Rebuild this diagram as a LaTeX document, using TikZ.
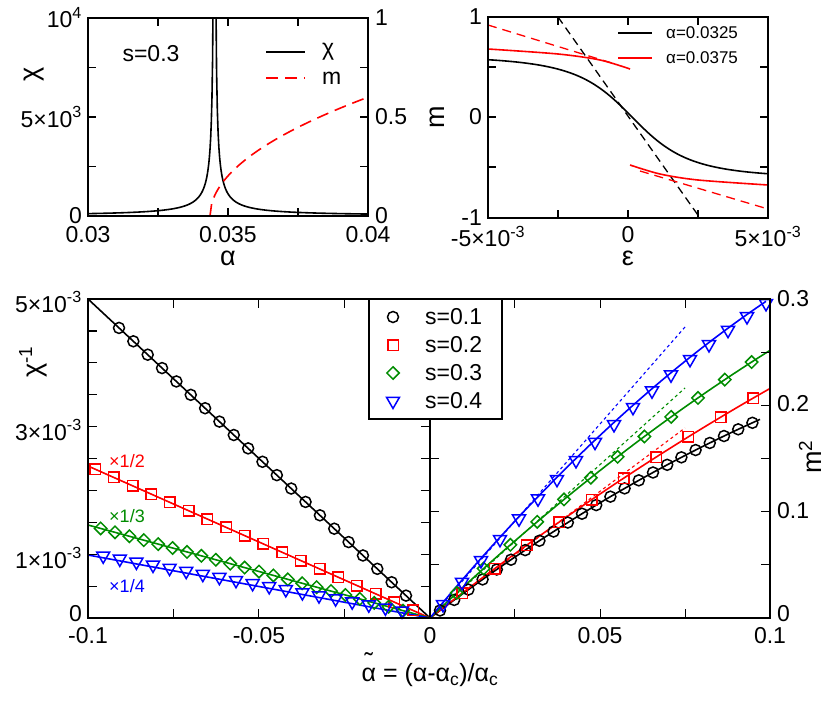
\documentclass[tikz,border=0pt]{standalone}
\usepackage{fontspec}
\setmainfont{Liberation Sans}
\usetikzlibrary{shapes.geometric}
\definecolor{dgreen}{RGB}{0,140,0}
\tikzset{
  frame/.style={line width=1.6pt},
  tk/.style={line width=1.2pt},
  lbl/.style={font=\fontsize{23}{26}\selectfont, inner sep=0pt},
  ttl/.style={font=\fontsize{27}{30}\selectfont, inner sep=0pt},
  curve/.style={line width=1.6pt},
  mcirc/.style={circle, draw=black, line width=1.5pt, minimum size=11pt, inner sep=0pt},
  msq/.style={rectangle, draw=red, line width=1.5pt, minimum size=10.5pt, inner sep=0pt},
  mdia/.style={diamond, draw=dgreen, line width=1.5pt, minimum size=13pt, inner sep=0pt},
  mtri/.style={regular polygon, regular polygon sides=3, shape border rotate=180, draw=blue, line width=1.5pt, minimum size=15pt, inner sep=0pt}
}
\begin{document}
\begin{tikzpicture}[x=1pt,y=-1pt]
\useasboundingbox (0,0) rectangle (830,701);
%%%%%%%% top-left panel
\begin{scope}
\clip (88,18) rectangle (368,216);
\draw[curve] plot[domain=88:213.2, samples=200] (\x,{216-300/(214.5-\x)});
\draw[curve] plot[domain=215.8:368, samples=200] (\x,{216-300/(\x-214.5)});
\draw[curve, red, dashed, dash pattern=on 12pt off 7pt] plot[domain=210:368, samples=100] (\x,{216-118.8*sqrt((\x-210)/158)});
\end{scope}
\foreach \x in {158,228,298} {\draw[tk] (\x,216) -- (\x,208); \draw[tk] (\x,18) -- (\x,26);}
\foreach \y in {67.5,117,166.5} {\draw[tk] (88,\y) -- (96,\y); \draw[tk] (368,\y) -- (360,\y);}
\draw[frame] (88,18) rectangle (368,216);
\node[lbl, anchor=north] (tl1) at (88,226) {0.03};
\node[lbl, anchor=north] (tl2) at (228,226) {0.035};
\node[lbl, anchor=north] (tl3) at (368,226) {0.04};
\node[ttl, anchor=north] (tlx) at (228,251) {α};
\node[lbl, anchor=east] (tly1) at (82,18) {10\textsuperscript{4}};
\node[lbl, anchor=east] (tly2) at (82,117) {5×10\textsuperscript{3}};
\node[lbl, anchor=east] (tly3) at (82,216) {0};
\node[ttl, rotate=90] (tly) at (34,74) {χ};
\node[lbl, anchor=west] (tr1) at (375,18) {1};
\node[lbl, anchor=west] (tr2) at (375,117) {0.5};
\node[lbl, anchor=west] (tr3) at (375,216) {0};
\node[lbl] (s03) at (151,54) {s=0.3};
\coordinate (la1) at (266,52); \coordinate (la2) at (305,52);
\draw[curve] (la1) -- (la2);
\node[lbl, anchor=west] (lchi) at (322,52) {χ};
\coordinate (lb1) at (266,78); \coordinate (lb2) at (305,78);
\draw[curve, red, dash pattern=on 12pt off 7pt] (lb1) -- (lb2);
\node[lbl, anchor=west] (lm) at (322,78) {m};
%%%%%%%% top-right panel
\begin{scope}
\clip (488,17) rectangle (768,218);
\draw[line width=1.3pt, dashed, dash pattern=on 8pt off 5pt] (558,17) -- (700,218);
\draw[curve] plot[domain=488:768, samples=150] (\x,{117+62.31*((\x-632)/61.6)/sqrt(((\x-632)/61.6)^2+1)});
\draw[curve, red] plot[smooth] coordinates {(488,49) (558,54) (600,60) (630,69)};
\draw[curve, red] plot[smooth] coordinates {(630,165) (660,174) (698,180) (768,185)};
\draw[line width=1.3pt, red, dash pattern=on 9pt off 6pt] (488,25) -- (615,64);
\draw[line width=1.3pt, red, dash pattern=on 9pt off 6pt] (640,171) -- (768,209);
\end{scope}
\foreach \x in {558,628,698} {\draw[tk] (\x,218) -- (\x,210); \draw[tk] (\x,17) -- (\x,25);}
\foreach \y in {67,117,167} {\draw[tk] (488,\y) -- (496,\y); \draw[tk] (768,\y) -- (760,\y);}
\draw[frame] (488,17) rectangle (768,218);
\node[lbl, anchor=north] (rx1) at (488,226) {-5×10\textsuperscript{-3}};
\node[lbl, anchor=north] (rx2) at (628,226) {0};
\node[lbl, anchor=north] (rx3) at (768,226) {5×10\textsuperscript{-3}};
\node[ttl, anchor=north] (rxt) at (628,251) {ε};
\node[lbl, anchor=east] (ry1) at (482,17) {1};
\node[lbl, anchor=east] (ry2) at (482,117) {0};
\node[lbl, anchor=east] (ry3) at (482,218) {-1};
\node[ttl, rotate=90] (ryt) at (437,117) {m};
\coordinate (lc1) at (618,33); \coordinate (lc2) at (652,33);
\draw[curve] (lc1) -- (lc2);
\node[anchor=west, inner sep=0pt, font=\fontsize{17}{19}\selectfont] (lca) at (666,33) {α=0.0325};
\coordinate (ld1) at (618,58); \coordinate (ld2) at (652,58);
\draw[curve, red] (ld1) -- (ld2);
\node[anchor=west, inner sep=0pt, font=\fontsize{17}{19}\selectfont] (lda) at (666,58) {α=0.0375};
%%%%%%%% bottom panel
% left curves
\draw[curve] (88,299) -- (430,618);
\draw[curve, red] (88,466) -- (430,618);
\draw[curve, dgreen] (88,525) -- (430,618);
\draw[curve, blue] (88,555) -- (430,618);
\foreach \i in {0,...,20} {\pgfmathsetmacro\xx{406-14.35*\i}\node[mcirc] at (\xx,{618-(430-\xx)/342*319}) {};}
\foreach \i in {0,...,17} {\pgfmathsetmacro\xx{413-18.7*\i}\node[msq] at (\xx,{618-(430-\xx)/342*152}) {};}
\foreach \i in {0,...,21} {\pgfmathsetmacro\xx{403-14.4*\i}\node[mdia] at (\xx,{618-(430-\xx)/342*93}) {};}
\foreach \i in {0,...,18} {\pgfmathsetmacro\xx{402-16.6*\i}\node[mtri] at (\xx,{616-(430-\xx)/342*63}) {};}
% right curves
\draw[line width=1.1pt, blue, dashed] (430,618) -- (685,327);
\draw[line width=1.1pt, dgreen, dashed] (430,618) -- (685,388);
\draw[line width=1.1pt, red, dashed] (430,618) -- (685,428);
\draw[curve] plot[domain=0:330, samples=60] ({430+\x},{618-0.758*\x+0.000479*\x*\x});
\draw[curve, red] plot[domain=0:340, samples=60] ({430+\x},{618-0.784*\x+0.000319*\x*\x});
\draw[curve, dgreen] plot[domain=0:340, samples=60] ({430+\x},{618-0.948*\x+0.000473*\x*\x});
\draw[curve, blue] plot[domain=0:336, samples=60] ({430+\x},{618-1.209*\x+0.000799*\x*\x});
\foreach \i in {0,...,22} {\pgfmathsetmacro\dx{10+14.2*\i}\node[mcirc] at ({430+\dx},{618-0.758*\dx+0.000479*\dx*\dx}) {};}
\foreach \i in {1,...,10} {\pgfmathsetmacro\dx{32.3*\i}\node[msq] at ({430+\dx},{618-0.784*\dx+0.000319*\dx*\dx}) {};}
\foreach \i in {1,...,12} {\pgfmathsetmacro\dx{26.8*\i}\node[mdia] at ({430+\dx},{618-0.948*\dx+0.000473*\dx*\dx}) {};}
\foreach \i in {0,...,17} {\pgfmathsetmacro\dx{13+19*\i}\node[mtri] at ({430+\dx},{620-1.209*\dx+0.000799*\dx*\dx}) {};}
% ticks
\foreach \i in {1,...,7} {\pgfmathsetmacro\xx{88+85.375*\i}\draw[tk] (\xx,618) -- (\xx,609); \draw[tk] (\xx,299) -- (\xx,308);}
\foreach \i in {1,...,9} {\pgfmathsetmacro\yy{618-31.9*\i}\draw[tk] (88,\yy) -- (97,\yy); \draw[tk] (430,\yy) -- (421,\yy);}
\foreach \i in {1,...,5} {\pgfmathsetmacro\yy{618-53.17*\i}\draw[tk] (770,\yy) -- (761,\yy); \draw[tk] (430,\yy) -- (439,\yy);}
\draw[frame] (88,299) rectangle (770,618);
\draw[frame] (430,299) -- (430,618);
% legend
\draw[frame, fill=white] (369,299) rectangle (502,419);
\node[mcirc] (k1) at (393,317) {}; \node[lbl, anchor=west] (t1) at (425,317) {s=0.1};
\node[msq] (k2) at (393,345) {}; \node[lbl, anchor=west] (t2) at (425,345) {s=0.2};
\node[mdia] (k3) at (393,373) {}; \node[lbl, anchor=west] (t3) at (425,373) {s=0.3};
\node[mtri] (k4) at (393,401) {}; \node[lbl, anchor=west] (t4) at (425,401) {s=0.4};
% scale labels
\node[red, inner sep=0pt, font=\fontsize{18}{20}\selectfont] (f2) at (127,461) {×1/2};
\node[dgreen, inner sep=0pt, font=\fontsize{18}{20}\selectfont] (f3) at (127,516) {×1/3};
\node[blue, inner sep=0pt, font=\fontsize{18}{20}\selectfont] (f4) at (127,586) {×1/4};
% axis labels
\node[lbl, anchor=north] (bx1) at (88,627) {-0.1};
\node[lbl, anchor=north] (bx2) at (259,627) {-0.05};
\node[lbl, anchor=north] (bx3) at (430,627) {0};
\node[lbl, anchor=north] (bx4) at (600,627) {0.05};
\node[lbl, anchor=north] (bx5) at (770,627) {0.1};
\node[lbl, anchor=east] (by1) at (82,302) {5×10\textsuperscript{-3}};
\node[lbl, anchor=east] (by2) at (82,430) {3×10\textsuperscript{-3}};
\node[lbl, anchor=east] (by3) at (82,558) {1×10\textsuperscript{-3}};
\node[lbl, anchor=east] (by4) at (82,614) {0};
\node[lbl, anchor=west] (bz1) at (777,299) {0.3};
\node[lbl, anchor=west] (bz2) at (777,404) {0.2};
\node[lbl, anchor=west] (bz3) at (777,511) {0.1};
\node[lbl, anchor=west] (bz4) at (777,614) {0};
\node[ttl, rotate=90] (byt) at (33,362) {χ\textsuperscript{-1}};
\node[ttl, rotate=90] (bzt) at (810,457) {m\textsuperscript{2}};
\node[lbl, font=\fontsize{25}{28}\selectfont] (bxt) at (430,675) {\ooalign{α\cr\hidewidth\raisebox{0.42em}{˜}\hidewidth\cr} = (α-α\textsubscript{c})/α\textsubscript{c}};
\end{tikzpicture}
\end{document}
